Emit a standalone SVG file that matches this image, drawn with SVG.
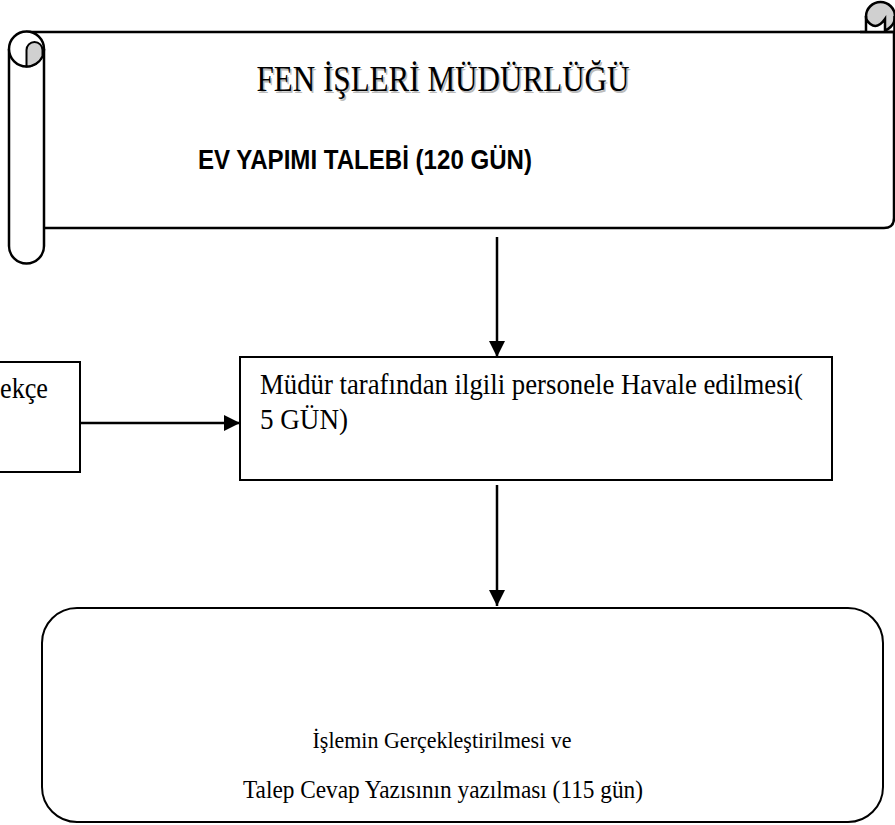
<svg xmlns="http://www.w3.org/2000/svg" width="895" height="825" viewBox="0 0 895 825">
<style>
.ln{stroke:#000;stroke-width:2.5;fill:none}
.box{stroke:#000;stroke-width:2;fill:#fff}
.sc{stroke:#000;stroke-width:2.5;fill:#fff}
.gr{stroke:#000;stroke-width:2;fill:#d0d0d0}
.tm{font-family:"Liberation Serif","Times New Roman",serif;fill:#000}
.bd{font-family:"Liberation Sans",Arial,sans-serif;font-weight:bold;fill:#000}
</style>
<defs>
<marker id="ah" markerUnits="userSpaceOnUse" markerWidth="18" markerHeight="18" refX="16" refY="8" orient="auto">
<path d="M0,0 L16,8 L0,16 Z" fill="#000"/>
</marker>
</defs>
<rect width="895" height="825" fill="#fff"/>
<g id="header">
<path class="sc" d="M26,32 H894 V218 Q894,228 884,228 H44"/>
<path class="sc" d="M9,49 V246 A17.5,17.5 0 0 0 44,246 V49"/>
<circle class="sc" cx="26.5" cy="49" r="17.5"/>
<path class="gr" d="M26.5,66.5 V50 A8,8 0 0 1 42.5,50 V56.1 A17.5,17.5 0 0 1 26.5,66.5 Z"/>
<circle cx="880.5" cy="16.5" r="14.5" fill="#d0d0d0" stroke="#000" stroke-width="2.5"/>
<path d="M866,19 Q875,33 885,19 V32 H866 Z" fill="#fff" stroke="none"/>
<path class="ln" d="M866,16 V32 M866,19 Q875,33 885,19 V32 M894.5,16 V40"/>
<path class="ln" d="M860,32 H894"/>
<text class="tm" x="444.5" y="92.5" font-size="35" text-anchor="middle" textLength="373" lengthAdjust="spacingAndGlyphs" style="fill:#bbb">FEN İŞLERİ MÜDÜRLÜĞÜ</text>
<text class="tm" x="443" y="91" font-size="35" text-anchor="middle" textLength="373" lengthAdjust="spacingAndGlyphs">FEN İŞLERİ MÜDÜRLÜĞÜ</text>
<text class="bd" x="198" y="169" font-size="27" textLength="334" lengthAdjust="spacingAndGlyphs">EV YAPIMI TALEBİ (120 GÜN)</text>
</g>
<g id="dilekce">
<rect class="box" x="-10" y="362" width="90" height="110"/>
<text class="tm" x="0" y="398" font-size="29" textLength="48" lengthAdjust="spacingAndGlyphs">ekçe</text>
</g>
<g id="havale">
<rect class="box" x="240" y="357" width="592" height="123"/>
<text class="tm" x="260" y="394" font-size="30" textLength="543" lengthAdjust="spacingAndGlyphs">Müdür tarafından ilgili personele Havale edilmesi(</text>
<text class="tm" x="260" y="429" font-size="30" textLength="88" lengthAdjust="spacingAndGlyphs">5 GÜN)</text>
</g>
<g id="islem">
<rect class="box" x="42" y="608" width="841" height="214" rx="35" ry="35"/>
<text class="tm" x="442" y="748" font-size="23" text-anchor="middle" textLength="259" lengthAdjust="spacingAndGlyphs">İşlemin Gerçekleştirilmesi  ve</text>
<text class="tm" x="443" y="798" font-size="26" text-anchor="middle" textLength="400" lengthAdjust="spacingAndGlyphs">Talep Cevap Yazısının yazılması (115 gün)</text>
</g>
<g id="connectors">
<line class="ln" x1="497" y1="237" x2="497" y2="357" marker-end="url(#ah)"/>
<line class="ln" x1="497" y1="485" x2="497" y2="606" marker-end="url(#ah)"/>
<line class="ln" x1="80" y1="423" x2="240" y2="423" marker-end="url(#ah)"/>
</g>
</svg>
